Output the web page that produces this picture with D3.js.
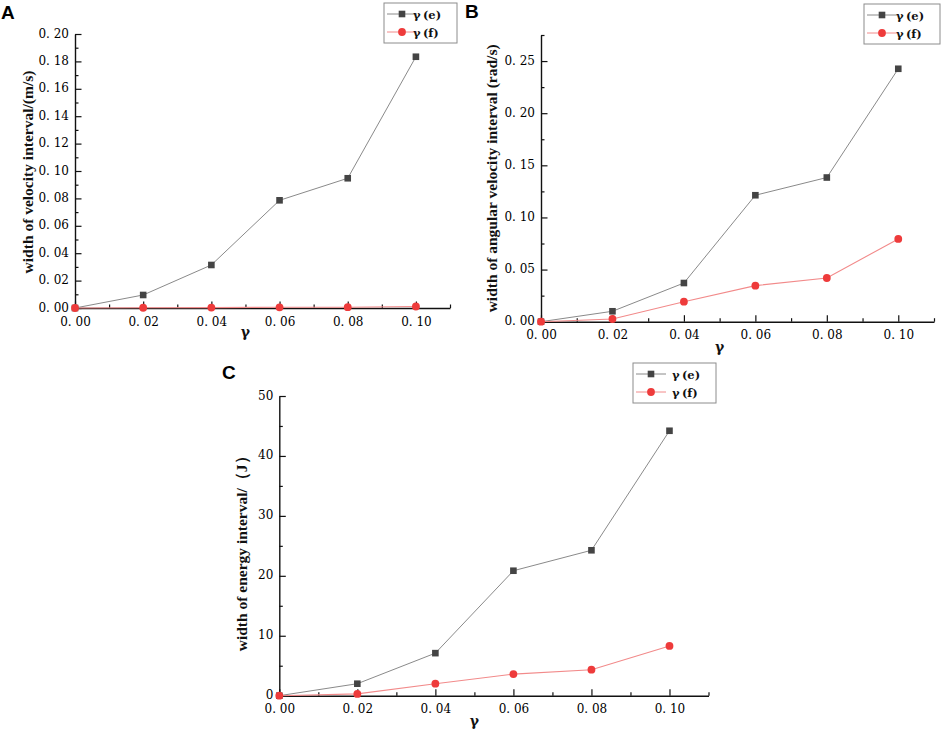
<!DOCTYPE html>
<html>
<head>
<meta charset="utf-8">
<script src="https://cdn.jsdelivr.net/npm/d3@7"></script>
<style>
  body { margin: 0; background: #fff; }
  .tick text { font-family: "DejaVu Serif", serif; font-size: 12px; fill: #000; }
  .ytitle { font-family: "Liberation Serif", serif; font-weight: bold; font-size: 15.5px; fill: #111; }
  .xtitle { font-family: "DejaVu Serif", serif; font-weight: bold; font-size: 14px; fill: #111; }
  .letter { font-family: "Liberation Sans", Arial, sans-serif; font-weight: bold; font-size: 19px; fill: #000; }
  .legtext { font-family: "DejaVu Serif", serif; font-weight: bold; font-size: 11.5px; fill: #111; }
</style>
</head>
<body>
<svg id="chart" width="941" height="730"></svg>
<script>
// data
var gammaVals = [0, 0.02, 0.04, 0.06, 0.08, 0.10];

var velE = [0, 0.0095, 0.0314, 0.0786, 0.0947, 0.1834];
var velF = [0, 0.0002, 0.0003, 0.0005, 0.0006, 0.0011];

var angE = [0, 0.0100, 0.0371, 0.1213, 0.1383, 0.2426];
var angF = [0, 0.0026, 0.0192, 0.0346, 0.0419, 0.0794];

var engE = [0, 2.0, 7.1, 20.85, 24.26, 44.2];
var engF = [0, 0.3, 2.0, 3.6, 4.34, 8.3];

var xMajor = [0, 0.02, 0.04, 0.06, 0.08, 0.10];
var xMinor = [0.01, 0.03, 0.05, 0.07, 0.09, 0.11];

var velMajor = [0, 0.02, 0.04, 0.06, 0.08, 0.10, 0.12, 0.14, 0.16, 0.18, 0.20];
var velMinor = [0.01, 0.03, 0.05, 0.07, 0.09, 0.11, 0.13, 0.15, 0.17, 0.19];
var angMajor = [0, 0.05, 0.10, 0.15, 0.20, 0.25];
var angMinor = [0.025, 0.075, 0.125, 0.175, 0.225, 0.275];
var engMajor = [0, 10, 20, 30, 40, 50];
var engMinor = [5, 15, 25, 35, 45];

var seriesNames = ["\u03b3\u2009(e)", "\u03b3\u2009(f)"];

var colE = "#444444", lineE = "#8a8a8a";
var colF = "#ee3b3b", lineF = "#f28a8a";

var svg = d3.select("#chart");

// decimal labels look like "0. 20" in the figure
function decFmt(d) { return d3.format(".2f")(d).replace(".", ". "); }

function drawPanel(p) {
  var g = svg.append("g");
  var x = d3.scaleLinear().domain([0, 0.11]).range([p.left, p.right]);
  var y = d3.scaleLinear().domain([0, p.yMax]).range([p.bottom, p.top]);

  // minor ticks first, inward
  g.append("g")
    .attr("transform", "translate(0," + p.bottom + ")")
    .call(d3.axisBottom(x).tickValues(xMinor).tickSize(-3.5).tickFormat("").tickSizeOuter(0))
    .call(function(s) { s.select(".domain").remove(); });
  g.append("g")
    .attr("transform", "translate(" + p.left + ",0)")
    .call(d3.axisLeft(y).tickValues(p.yMinor).tickSize(-3.5).tickFormat("").tickSizeOuter(0))
    .call(function(s) { s.select(".domain").remove(); });

  g.append("g")
    .attr("transform", "translate(0," + p.bottom + ")")
    .call(d3.axisBottom(x).tickValues(xMajor).tickSize(-6.5).tickPadding(9).tickSizeOuter(0).tickFormat(decFmt));
  g.append("g")
    .attr("transform", "translate(" + p.left + ",0)")
    .call(d3.axisLeft(y).tickValues(p.yMajor).tickSize(-6.5).tickPadding(6).tickSizeOuter(0).tickFormat(p.yFmt))
    .call(function(s) { s.selectAll(".tick text").attr("dy", "0.25em"); });

  g.selectAll(".domain").attr("stroke", "#111").attr("stroke-width", 1.4);
  g.selectAll(".tick line").attr("stroke", "#111").attr("stroke-width", 1.2);

  // titles
  g.append("text").attr("class", "ytitle")
    .attr("transform", "translate(" + p.yTitleX + "," + ((p.top + p.bottom) / 2 + p.yTitleShift) + ") rotate(-90)")
    .attr("text-anchor", "middle").attr("dominant-baseline", "middle")
    .text(p.yTitle);
  g.append("text").attr("class", "xtitle")
    .attr("x", x(0.05)).attr("y", p.bottom + p.xTitleDy)
    .attr("text-anchor", "middle")
    .text("\u03b3");

  g.append("text").attr("class", "letter")
    .attr("x", p.letterX).attr("y", p.letterY).text(p.letter);

  var line = d3.line()
    .x(function(d) { return x(d[0]); })
    .y(function(d) { return y(d[1]); });

  var ptsE = gammaVals.map(function(v, i) { return [v, p.e[i]]; });
  var ptsF = gammaVals.map(function(v, i) { return [v, p.f[i]]; });

  g.append("path").datum(ptsE).attr("d", line)
    .attr("fill", "none").attr("stroke", lineE).attr("stroke-width", 1);
  g.append("path").datum(ptsF).attr("d", line)
    .attr("fill", "none").attr("stroke", lineF).attr("stroke-width", 1.1);

  g.selectAll(".sq").data(ptsE).enter().append("rect")
    .attr("x", function(d) { return x(d[0]) - 3.3; })
    .attr("y", function(d) { return y(d[1]) - 3.3; })
    .attr("width", 6.6).attr("height", 6.6)
    .attr("fill", colE);
  g.selectAll(".dot").data(ptsF).enter().append("circle")
    .attr("cx", function(d) { return x(d[0]); })
    .attr("cy", function(d) { return y(d[1]); })
    .attr("r", 3.9)
    .attr("fill", colF);

  // legend
  var lg = g.append("g").attr("transform", "translate(" + p.legX + "," + p.legY + ")");
  lg.append("rect").attr("width", p.legW).attr("height", 40)
    .attr("fill", "#fff").attr("stroke", "#8c8c8c").attr("stroke-width", 1);
  [0, 1].forEach(function(i) {
    var ry = 11 + i * 18;
    lg.append("line").attr("x1", 3).attr("x2", 33).attr("y1", ry).attr("y2", ry)
      .attr("stroke", i === 0 ? lineE : lineF).attr("stroke-width", 1);
    if (i === 0) {
      lg.append("rect").attr("x", 18 - 3.3).attr("y", ry - 3.3).attr("width", 6.6).attr("height", 6.6).attr("fill", colE);
    } else {
      lg.append("circle").attr("cx", 18).attr("cy", ry).attr("r", 3.9).attr("fill", colF);
    }
    lg.append("text").attr("class", "legtext")
      .attr("x", p.legW - 44).attr("y", ry + 4.5).text(seriesNames[i]);
  });
}

drawPanel({
  letter: "A", letterX: 1, letterY: 19,
  left: 75, right: 450, top: 34, bottom: 308, yMax: 0.2,
  yMajor: velMajor, yMinor: velMinor, yFmt: decFmt,
  e: velE, f: velF,
  yTitle: "width of velocity interval/(m/s)", yTitleX: 29, yTitleShift: 1,
  xTitleDy: 29,
  legX: 384, legY: 3, legW: 73
});

drawPanel({
  letter: "B", letterX: 465, letterY: 18,
  left: 541, right: 934, top: 35, bottom: 321.7, yMax: 0.275,
  yMajor: angMajor, yMinor: angMinor, yFmt: decFmt,
  e: angE, f: angF,
  yTitle: "width of angular velocity interval (rad/s)", yTitleX: 493, yTitleShift: 0,
  xTitleDy: 30,
  legX: 864, legY: 4, legW: 76
});

drawPanel({
  letter: "C", letterX: 222, letterY: 379,
  left: 279.3, right: 708.5, top: 396, bottom: 695.7, yMax: 50,
  yMajor: engMajor, yMinor: engMinor, yFmt: d3.format("d"),
  e: engE, f: engF,
  yTitle: "width of energy interval/\uff08J\uff09", yTitleX: 243, yTitleShift: 4,
  xTitleDy: 30,
  legX: 633, legY: 363, legW: 83
});
</script>
</body>
</html>
